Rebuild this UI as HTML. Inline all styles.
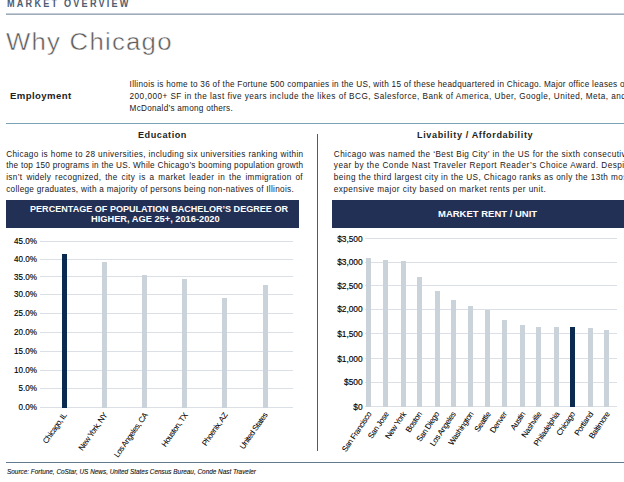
<!DOCTYPE html>
<html><head><meta charset="utf-8">
<style>
*{margin:0;padding:0;box-sizing:border-box}
html,body{width:624px;height:482px;overflow:hidden;background:#fff;font-family:"Liberation Sans",sans-serif;color:#231f20}
.a{position:absolute}
.t{position:absolute;white-space:nowrap;line-height:1;transform-origin:0 0}
.ylab{position:absolute;line-height:1;text-align:right;width:60px;color:#000;white-space:nowrap;transform-origin:100% 50%;-webkit-text-stroke:0.15px #000}
.grid{position:absolute;height:1px;background:#dbe0e6}
.bar{position:absolute;width:5px;background:#cad2da}
.bar.n{background:#0b2a4f}
.xl{position:absolute;line-height:1;white-space:nowrap;transform-origin:100% 50%;color:#000;-webkit-text-stroke:0.06px #000}
</style></head><body>
<div class="a" style="left:6px;top:13px;width:618px;height:1px;background:#c3ccd5"></div>
<div class="a" style="left:6px;top:14px;width:618px;height:1px;background:#9eabb9"></div>
<div class="a" style="left:6px;top:123px;width:618px;height:1px;background:#7ca2b6"></div>
<div class="a" style="left:317px;top:134px;width:1px;height:317px;background:#2b6890"></div>
<div class="a" style="left:6px;top:200px;width:293px;height:28px;background:#223055"></div>
<div class="a" style="left:332px;top:200px;width:292px;height:28px;background:#223055"></div>
<div class="a" style="left:6px;top:462px;width:618px;height:1px;background:#617a90"></div>
<div class="grid" style="left:40px;top:241.1px;width:253px"></div>
<div class="ylab" style="left:-23.5px;top:237.20px;font-size:9.0px;transform:scaleX(0.9)">45.0%</div>
<div class="grid" style="left:40px;top:259.0px;width:253px"></div>
<div class="ylab" style="left:-23.5px;top:255.10px;font-size:9.0px;transform:scaleX(0.9)">40.0%</div>
<div class="grid" style="left:40px;top:276.4px;width:253px"></div>
<div class="ylab" style="left:-23.5px;top:272.50px;font-size:9.0px;transform:scaleX(0.9)">35.0%</div>
<div class="grid" style="left:40px;top:294.0px;width:253px"></div>
<div class="ylab" style="left:-23.5px;top:290.10px;font-size:9.0px;transform:scaleX(0.9)">30.0%</div>
<div class="grid" style="left:40px;top:313.0px;width:253px"></div>
<div class="ylab" style="left:-23.5px;top:309.10px;font-size:9.0px;transform:scaleX(0.9)">25.0%</div>
<div class="grid" style="left:40px;top:332.0px;width:253px"></div>
<div class="ylab" style="left:-23.5px;top:328.10px;font-size:9.0px;transform:scaleX(0.9)">20.0%</div>
<div class="grid" style="left:40px;top:350.5px;width:253px"></div>
<div class="ylab" style="left:-23.5px;top:346.60px;font-size:9.0px;transform:scaleX(0.9)">15.0%</div>
<div class="grid" style="left:40px;top:369.7px;width:253px"></div>
<div class="ylab" style="left:-23.5px;top:365.80px;font-size:9.0px;transform:scaleX(0.9)">10.0%</div>
<div class="grid" style="left:40px;top:387.7px;width:253px"></div>
<div class="ylab" style="left:-23.5px;top:383.80px;font-size:9.0px;transform:scaleX(0.9)">5.0%</div>
<div class="grid" style="left:40px;top:406.9px;width:253px"></div>
<div class="ylab" style="left:-23.5px;top:403.00px;font-size:9.0px;transform:scaleX(0.9)">0.0%</div>
<div class="bar n" style="left:62.1px;top:254.1px;height:153.5px"></div>
<div class="xl" style="right:558.1px;top:409.5px;transform:rotate(-55deg);font-size:8px;letter-spacing:-0.45px">Chicago, IL</div>
<div class="bar" style="left:102.2px;top:261.6px;height:146.0px"></div>
<div class="xl" style="right:518.0px;top:409.5px;transform:rotate(-55deg);font-size:8px;letter-spacing:-0.45px">New York, NY</div>
<div class="bar" style="left:142.3px;top:274.8px;height:132.8px"></div>
<div class="xl" style="right:477.9px;top:409.5px;transform:rotate(-55deg);font-size:8px;letter-spacing:-0.45px">Los Angeles, CA</div>
<div class="bar" style="left:182.3px;top:279.1px;height:128.5px"></div>
<div class="xl" style="right:437.9px;top:409.5px;transform:rotate(-55deg);font-size:8px;letter-spacing:-0.45px">Houston, TX</div>
<div class="bar" style="left:222.3px;top:297.8px;height:109.8px"></div>
<div class="xl" style="right:397.9px;top:409.5px;transform:rotate(-55deg);font-size:8px;letter-spacing:-0.45px">Phoenix, AZ</div>
<div class="bar" style="left:262.6px;top:284.8px;height:122.8px"></div>
<div class="xl" style="right:357.6px;top:409.5px;transform:rotate(-55deg);font-size:8px;letter-spacing:-0.45px">United States</div>
<div class="grid" style="left:365px;top:238.4px;width:252px"></div>
<div class="ylab" style="left:302.5px;top:234.80px;font-size:8.4px;letter-spacing:-0.05px">$3,500</div>
<div class="grid" style="left:365px;top:261.7px;width:252px"></div>
<div class="ylab" style="left:302.5px;top:258.10px;font-size:8.4px;letter-spacing:-0.05px">$3,000</div>
<div class="grid" style="left:365px;top:285.3px;width:252px"></div>
<div class="ylab" style="left:302.5px;top:281.70px;font-size:8.4px;letter-spacing:-0.05px">$2,500</div>
<div class="grid" style="left:365px;top:309.0px;width:252px"></div>
<div class="ylab" style="left:302.5px;top:305.40px;font-size:8.4px;letter-spacing:-0.05px">$2,000</div>
<div class="grid" style="left:365px;top:333.3px;width:252px"></div>
<div class="ylab" style="left:302.5px;top:329.70px;font-size:8.4px;letter-spacing:-0.05px">$1,500</div>
<div class="grid" style="left:365px;top:358.1px;width:252px"></div>
<div class="ylab" style="left:302.5px;top:354.50px;font-size:8.4px;letter-spacing:-0.05px">$1,000</div>
<div class="grid" style="left:365px;top:382.0px;width:252px"></div>
<div class="ylab" style="left:302.5px;top:378.40px;font-size:8.4px;letter-spacing:-0.05px">$500</div>
<div class="grid" style="left:365px;top:406.2px;width:252px"></div>
<div class="ylab" style="left:302.5px;top:402.60px;font-size:8.4px;letter-spacing:-0.05px">$0</div>
<div class="bar" style="left:366.1px;top:258.1px;height:148.8px"></div>
<div class="xl" style="right:254.1px;top:408.5px;transform:rotate(-56deg);font-size:8px;letter-spacing:-0.38px">San Francisco</div>
<div class="bar" style="left:383.1px;top:260.3px;height:146.6px"></div>
<div class="xl" style="right:237.1px;top:408.5px;transform:rotate(-56deg);font-size:8px;letter-spacing:-0.38px">San Jose</div>
<div class="bar" style="left:400.6px;top:260.8px;height:146.1px"></div>
<div class="xl" style="right:219.6px;top:408.5px;transform:rotate(-56deg);font-size:8px;letter-spacing:-0.38px">New York</div>
<div class="bar" style="left:417px;top:277.0px;height:129.9px"></div>
<div class="xl" style="right:203.2px;top:408.5px;transform:rotate(-56deg);font-size:8px;letter-spacing:-0.38px">Boston</div>
<div class="bar" style="left:434.5px;top:290.8px;height:116.1px"></div>
<div class="xl" style="right:185.7px;top:408.5px;transform:rotate(-56deg);font-size:8px;letter-spacing:-0.38px">San Diego</div>
<div class="bar" style="left:450.9px;top:300.0px;height:106.9px"></div>
<div class="xl" style="right:169.3px;top:408.5px;transform:rotate(-56deg);font-size:8px;letter-spacing:-0.38px">Los Angeles</div>
<div class="bar" style="left:468.1px;top:306.0px;height:100.9px"></div>
<div class="xl" style="right:152.1px;top:408.5px;transform:rotate(-56deg);font-size:8px;letter-spacing:-0.38px">Washington</div>
<div class="bar" style="left:485px;top:309.7px;height:97.2px"></div>
<div class="xl" style="right:135.2px;top:408.5px;transform:rotate(-56deg);font-size:8px;letter-spacing:-0.38px">Seattle</div>
<div class="bar" style="left:502.2px;top:320.0px;height:86.9px"></div>
<div class="xl" style="right:118.0px;top:408.5px;transform:rotate(-56deg);font-size:8px;letter-spacing:-0.38px">Denver</div>
<div class="bar" style="left:520px;top:325.0px;height:81.9px"></div>
<div class="xl" style="right:100.2px;top:408.5px;transform:rotate(-56deg);font-size:8px;letter-spacing:-0.38px">Austin</div>
<div class="bar" style="left:536px;top:326.8px;height:80.1px"></div>
<div class="xl" style="right:84.2px;top:408.5px;transform:rotate(-56deg);font-size:8px;letter-spacing:-0.38px">Nashville</div>
<div class="bar" style="left:553.8px;top:327.0px;height:79.9px"></div>
<div class="xl" style="right:66.4px;top:408.5px;transform:rotate(-56deg);font-size:8px;letter-spacing:-0.38px">Philadelphia</div>
<div class="bar n" style="left:570px;top:326.7px;height:80.2px"></div>
<div class="xl" style="right:50.2px;top:408.5px;transform:rotate(-56deg);font-size:8px;letter-spacing:-0.38px">Chicago</div>
<div class="bar" style="left:587.8px;top:328.4px;height:78.5px"></div>
<div class="xl" style="right:32.4px;top:408.5px;transform:rotate(-56deg);font-size:8px;letter-spacing:-0.38px">Portland</div>
<div class="bar" style="left:604.2px;top:329.8px;height:77.1px"></div>
<div class="xl" style="right:16.0px;top:408.5px;transform:rotate(-56deg);font-size:8px;letter-spacing:-0.38px">Baltimore</div>
<div class="t" id="mo" style="left:6.8px;top:-1.17px;font-size:10px;font-weight:bold;letter-spacing:2.4px;color:#4f5d72;transform:scaleX(0.9144)">MARKET OVERVIEW</div>
<div class="t" id="why" style="left:5.8px;top:30.63px;font-size:23px;color:#5c5c5c;letter-spacing:1.1px;-webkit-text-stroke:0.45px #fff;transform:scaleX(1.1196)">Why Chicago</div>
<div class="t" id="emp" style="left:10px;top:91.07px;font-size:9.6px;font-weight:bold;color:#1d1d1d;letter-spacing:0.3922px">Employment</div>
<div class="t" id="e1" style="left:129.6px;top:80.86px;font-size:8.2px;color:#1a1718;letter-spacing:0.2853px">Illinois is home to 36 of the Fortune 500 companies in the US, with 15 of these headquartered in Chicago. Major office leases of</div>
<div class="t" id="e2" style="left:129.6px;top:92.56px;font-size:8.2px;color:#1a1718;letter-spacing:0.4621px">200,000+ SF in the last five years include the likes of BCG, Salesforce, Bank of America, Uber, Google, United, Meta, and</div>
<div class="t" id="e3" style="left:129.6px;top:104.56px;font-size:8.2px;color:#1a1718;letter-spacing:0.2565px">McDonald’s among others.</div>
<div class="t" id="edu" style="left:138px;top:130.60px;font-size:9.1px;font-weight:bold;letter-spacing:0.5590px">Education</div>
<div class="t" id="d1" style="left:6.2px;top:150.76px;font-size:8.2px;color:#1a1718;letter-spacing:0.3500px;width:297.30px;text-align:justify;text-align-last:justify">Chicago is home to 28 universities, including six universities ranking within</div>
<div class="t" id="d2" style="left:6.2px;top:162.36px;font-size:8.2px;color:#1a1718;letter-spacing:0.2689px;width:297.10px;text-align:justify;text-align-last:justify">the top 150 programs in the US. While Chicago’s booming population growth</div>
<div class="t" id="d3" style="left:6.2px;top:173.96px;font-size:8.2px;color:#1a1718;letter-spacing:0.3500px;width:296.80px;text-align:justify;text-align-last:justify">isn’t widely recognized, the city is a market leader in the immigration of</div>
<div class="t" id="d4" style="left:6.2px;top:185.56px;font-size:8.2px;color:#1a1718;letter-spacing:0.2956px">college graduates, with a majority of persons being non-natives of Illinois.</div>
<div class="t" id="liv" style="left:417px;top:130.60px;font-size:9.1px;font-weight:bold;letter-spacing:0.6147px">Livability / Affordability</div>
<div class="t" id="l1" style="left:333.8px;top:150.76px;font-size:8.2px;color:#1a1718;letter-spacing:0.4234px">Chicago was named the ‘Best Big City’ in the US for the sixth consecutive</div>
<div class="t" id="l2" style="left:333.8px;top:162.36px;font-size:8.2px;color:#1a1718;letter-spacing:0.4895px">year by the Conde Nast Traveler Report Reader’s Choice Award. Despite</div>
<div class="t" id="l3" style="left:333.8px;top:173.96px;font-size:8.2px;color:#1a1718;letter-spacing:0.4041px">being the third largest city in the US, Chicago ranks as only the 13th most</div>
<div class="t" id="l4" style="left:333.8px;top:185.56px;font-size:8.2px;color:#1a1718;letter-spacing:0.4370px">expensive major city based on market rents per unit.</div>
<div class="t" id="b1" style="left:29.8px;top:204.81px;font-size:9.2px;font-weight:bold;color:#fff;transform:scaleX(0.9865)">PERCENTAGE OF POPULATION BACHELOR’S DEGREE OR</div>
<div class="t" id="b2" style="left:91.2px;top:215.31px;font-size:9.2px;font-weight:bold;color:#fff;transform:scaleX(1.0080)">HIGHER, AGE 25+, 2016-2020</div>
<div class="t" id="mr" style="left:437.7px;top:209.07px;font-size:9.6px;font-weight:bold;color:#fff;transform:scaleX(0.9891)">MARKET RENT / UNIT</div>
<div class="t" id="src" style="left:6.5px;top:468.28px;font-size:7.7px;font-style:italic;color:#111;-webkit-text-stroke:0.12px #111;transform:scaleX(0.8317)">Source: Fortune, CoStar, US News, United States Census Bureau, Conde Nast Traveler</div>
</body></html>
